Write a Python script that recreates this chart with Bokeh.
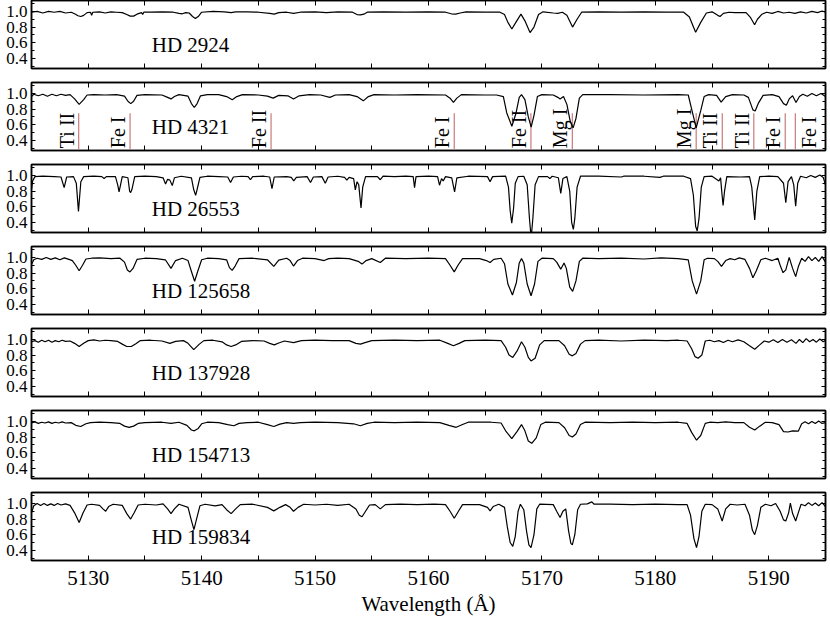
import math
from bokeh.plotting import figure
from bokeh.layouts import column
from bokeh.models import (Range1d, FixedTicker, LinearAxis, ColumnDataSource, Label,
                          PrintfTickFormatter, CustomLabelingPolicy)
from bokeh.core.properties import value
from bokeh.embed import file_html
from bokeh.resources import INLINE

# ---------------- data ----------------
stars = ["HD 2924", "HD 4321", "HD 26553", "HD 125658", "HD 137928", "HD 154713", "HD 159834"]

spec_hd2924 = [
    (5125.0, 0.99), (5125.5, 1.00), (5126.0, 0.98), (5126.5, 1.00), (5127.0, 0.99), (5127.5, 1.00),
    (5128.0, 0.98), (5128.5, 0.99), (5128.8, 0.97), (5129.1, 0.945), (5129.35, 0.935), (5129.6, 0.95),
    (5129.9, 0.985), (5130.2, 0.99), (5130.3, 0.95), (5130.4, 0.99), (5131.0, 0.995), (5131.5, 0.98),
    (5132.0, 0.995), (5132.5, 0.99), (5133.0, 0.985), (5133.4, 0.96), (5133.7, 0.94), (5134.0, 0.94),
    (5134.3, 0.965), (5134.7, 0.985), (5134.8, 0.96), (5134.9, 0.99), (5135.5, 0.99), (5136.5, 0.995),
    (5137.5, 0.99), (5138.0, 0.975), (5138.3, 0.97), (5138.6, 0.985), (5138.9, 0.98), (5139.2, 0.935),
    (5139.45, 0.91), (5139.7, 0.935), (5140.0, 0.99), (5141.0, 1.00), (5142.0, 0.995), (5142.6, 0.985),
    (5143.0, 0.995), (5144.0, 0.995), (5145.0, 0.99), (5146.0, 0.975), (5146.4, 0.965), (5146.8, 0.985),
    (5147.5, 0.99), (5148.1, 0.975), (5148.7, 0.99), (5150.0, 0.995), (5151.0, 0.985), (5152.0, 0.995),
    (5153.3, 0.99), (5153.7, 0.96), (5154.0, 0.955), (5154.3, 0.965), (5154.6, 0.99), (5156.0, 0.995),
    (5158.0, 0.99), (5160.0, 0.995), (5161.5, 0.99), (5162.0, 0.97), (5162.4, 0.965), (5162.8, 0.98),
    (5163.3, 0.995), (5165.0, 0.99), (5166.3, 0.99), (5166.7, 0.96), (5167.0, 0.86), (5167.35, 0.775),
    (5167.7, 0.86), (5168.15, 0.965), (5168.5, 0.88), (5168.95, 0.73), (5169.3, 0.80), (5169.7, 0.96),
    (5170.1, 0.995), (5171.0, 0.98), (5171.4, 0.975), (5171.8, 0.99), (5172.2, 0.95), (5172.7, 0.80),
    (5173.1, 0.90), (5173.5, 0.99), (5175.0, 0.995), (5177.0, 0.99), (5179.0, 0.995), (5181.0, 0.99),
    (5182.5, 0.99), (5183.0, 0.93), (5183.55, 0.735), (5184.0, 0.86), (5184.5, 0.98), (5185.0, 0.995),
    (5185.5, 0.95), (5185.7, 0.935), (5186.0, 0.975), (5186.5, 0.99), (5187.0, 0.985), (5188.0, 0.985),
    (5188.4, 0.92), (5188.75, 0.83), (5189.0, 0.90), (5189.4, 0.965), (5189.8, 0.99), (5190.3, 0.975),
    (5190.8, 1.00), (5191.3, 0.98), (5191.8, 0.99), (5192.3, 0.975), (5192.8, 0.995), (5193.3, 0.98),
    (5193.8, 1.00), (5194.3, 0.985), (5194.7, 1.005), (5195.0, 0.99),
]

spec_hd4321 = [
    (5125.0, 0.96), (5125.2, 0.99), (5125.6, 0.97), (5126.0, 0.99), (5126.4, 0.965), (5126.8, 0.99),
    (5127.2, 0.97), (5127.6, 0.99), (5128.0, 0.975), (5128.4, 0.985), (5128.8, 0.93), (5129.2, 0.86),
    (5129.6, 0.92), (5129.9, 0.98), (5130.5, 0.985), (5131.5, 0.98), (5132.5, 0.985), (5133.2, 0.965),
    (5133.5, 0.90), (5133.75, 0.87), (5134.0, 0.90), (5134.3, 0.975), (5135.0, 0.985), (5136.5, 0.98),
    (5137.0, 0.95), (5137.3, 0.93), (5137.6, 0.96), (5138.0, 0.985), (5138.8, 0.965), (5139.1, 0.87),
    (5139.35, 0.82), (5139.6, 0.87), (5139.9, 0.97), (5140.5, 0.985), (5141.5, 0.985), (5142.2, 0.96),
    (5142.7, 0.92), (5143.1, 0.96), (5143.6, 0.985), (5145.0, 0.98), (5145.8, 0.965), (5146.3, 0.94),
    (5146.8, 0.975), (5147.6, 0.97), (5148.1, 0.93), (5148.6, 0.97), (5149.5, 0.985), (5150.5, 0.98),
    (5151.3, 0.95), (5151.8, 0.98), (5153.0, 0.985), (5153.7, 0.96), (5154.25, 0.905), (5154.7, 0.96),
    (5155.2, 0.985), (5157.0, 0.98), (5159.0, 0.985), (5161.5, 0.98), (5161.9, 0.94), (5162.2, 0.885),
    (5162.5, 0.94), (5162.9, 0.985), (5165.0, 0.98), (5166.0, 0.98), (5166.6, 0.96), (5166.9, 0.75),
    (5167.35, 0.58), (5167.7, 0.74), (5168.0, 0.95), (5168.2, 0.985), (5168.5, 0.92), (5168.8, 0.70),
    (5169.05, 0.57), (5169.3, 0.72), (5169.6, 0.96), (5170.0, 0.985), (5171.0, 0.98), (5171.4, 0.95),
    (5171.6, 0.93), (5171.9, 0.96), (5172.2, 0.86), (5172.5, 0.64), (5172.75, 0.56), (5173.0, 0.68),
    (5173.3, 0.94), (5173.6, 0.985), (5176.0, 0.985), (5179.0, 0.98), (5182.0, 0.985), (5182.9, 0.98),
    (5183.2, 0.80), (5183.6, 0.56), (5184.0, 0.78), (5184.3, 0.96), (5184.7, 0.985), (5185.4, 0.975),
    (5185.8, 0.89), (5186.2, 0.96), (5186.8, 0.985), (5187.8, 0.98), (5188.2, 0.95), (5188.6, 0.79),
    (5188.8, 0.775), (5189.1, 0.88), (5189.5, 0.975), (5190.3, 0.985), (5190.9, 0.96), (5191.3, 0.87),
    (5191.55, 0.85), (5191.8, 0.93), (5192.1, 0.97), (5192.4, 0.885), (5192.7, 0.96), (5193.0, 0.99),
    (5193.4, 0.965), (5193.8, 1.00), (5194.2, 0.97), (5194.6, 1.00), (5195.0, 0.96),
]

spec_hd26553 = [
    (5125.0, 0.82), (5125.1, 0.93), (5125.3, 0.985), (5126.0, 0.99), (5127.0, 0.985), (5127.6, 0.98),
    (5127.88, 0.845), (5128.1, 0.98), (5128.7, 0.985), (5128.95, 0.90), (5129.14, 0.54), (5129.35, 0.92),
    (5129.6, 0.985), (5130.5, 0.99), (5131.2, 0.985), (5131.4, 0.96), (5131.6, 0.985), (5132.4, 0.985),
    (5132.6, 0.88), (5132.72, 0.79), (5132.85, 0.88), (5133.0, 0.985), (5133.5, 0.97), (5133.65, 0.80),
    (5133.74, 0.78), (5133.85, 0.82), (5134.1, 0.985), (5135.0, 0.99), (5136.0, 0.985), (5136.6, 0.97),
    (5136.82, 0.89), (5137.0, 0.95), (5137.2, 0.94), (5137.41, 0.87), (5137.6, 0.97), (5138.2, 0.99),
    (5139.1, 0.97), (5139.3, 0.82), (5139.47, 0.745), (5139.6, 0.82), (5139.85, 0.975), (5140.5, 0.99),
    (5141.5, 0.985), (5142.3, 0.98), (5142.55, 0.91), (5142.8, 0.98), (5143.5, 0.99), (5144.1, 0.985),
    (5144.3, 0.945), (5144.5, 0.985), (5145.5, 0.99), (5146.0, 0.98), (5146.2, 0.83), (5146.4, 0.98),
    (5147.5, 0.985), (5147.9, 0.975), (5148.12, 0.93), (5148.35, 0.975), (5149.3, 0.985), (5149.6, 0.91),
    (5149.85, 0.98), (5150.6, 0.985), (5150.9, 0.90), (5151.15, 0.98), (5152.0, 0.99), (5152.6, 0.975),
    (5152.8, 0.94), (5153.0, 0.975), (5153.4, 0.96), (5153.55, 0.815), (5153.7, 0.92), (5153.85, 0.88),
    (5154.05, 0.585), (5154.2, 0.85), (5154.45, 0.985), (5155.5, 0.985), (5155.75, 0.945), (5156.0, 0.99),
    (5157.0, 0.985), (5158.0, 0.99), (5158.65, 0.985), (5158.77, 0.845), (5158.9, 0.985), (5160.0, 0.99),
    (5160.8, 0.985), (5160.97, 0.875), (5161.15, 0.96), (5161.3, 0.93), (5161.5, 0.985), (5162.05, 0.97),
    (5162.3, 0.79), (5162.5, 0.97), (5163.5, 0.99), (5165.2, 0.985), (5165.43, 0.92), (5165.65, 0.985),
    (5166.8, 0.99), (5167.05, 0.85), (5167.2, 0.55), (5167.34, 0.39), (5167.5, 0.58), (5167.65, 0.90),
    (5167.9, 0.985), (5168.4, 0.99), (5168.7, 0.88), (5168.9, 0.45), (5169.05, 0.20), (5169.2, 0.45),
    (5169.4, 0.88), (5169.7, 0.985), (5170.5, 0.985), (5170.7, 0.96), (5170.9, 0.99), (5171.45, 0.97),
    (5171.66, 0.77), (5171.85, 0.96), (5172.2, 0.985), (5172.45, 0.80), (5172.62, 0.40), (5172.77, 0.31),
    (5172.9, 0.45), (5173.1, 0.85), (5173.4, 0.99), (5175.0, 0.99), (5177.0, 0.98), (5177.2, 0.99),
    (5179.0, 0.99), (5180.4, 0.975), (5180.7, 0.99), (5182.5, 0.99), (5183.1, 0.96), (5183.35, 0.75),
    (5183.55, 0.35), (5183.69, 0.29), (5183.85, 0.45), (5184.05, 0.85), (5184.3, 0.985), (5185.0, 0.99),
    (5185.6, 0.93), (5185.75, 0.97), (5185.85, 0.80), (5185.97, 0.615), (5186.1, 0.80), (5186.3, 0.985),
    (5187.5, 0.98), (5188.3, 0.985), (5188.5, 0.85), (5188.76, 0.43), (5188.95, 0.80), (5189.2, 0.985),
    (5190.0, 0.99), (5190.8, 0.985), (5191.3, 0.90), (5191.5, 0.65), (5191.7, 0.92), (5192.0, 0.985),
    (5192.2, 0.88), (5192.37, 0.605), (5192.55, 0.90), (5192.8, 0.99), (5193.3, 0.97), (5193.7, 1.00),
    (5194.1, 0.975), (5194.5, 1.005), (5194.8, 0.975), (5195.0, 0.88),
]

spec_hd125658 = [
    (5125.0, 0.91), (5125.2, 0.97), (5125.5, 0.99), (5125.9, 0.975), (5126.3, 1.00), (5126.7, 0.975),
    (5127.1, 0.995), (5127.5, 0.97), (5127.9, 0.995), (5128.3, 0.975), (5128.6, 0.96), (5128.9, 0.90),
    (5129.2, 0.83), (5129.5, 0.90), (5129.8, 0.98), (5130.3, 0.99), (5131.0, 0.995), (5132.0, 0.985),
    (5132.8, 0.99), (5133.2, 0.94), (5133.45, 0.84), (5133.68, 0.815), (5133.95, 0.86), (5134.3, 0.975),
    (5135.0, 0.99), (5136.0, 0.985), (5136.8, 0.97), (5137.3, 0.86), (5137.7, 0.96), (5138.3, 0.99),
    (5138.8, 0.96), (5139.1, 0.82), (5139.38, 0.695), (5139.65, 0.82), (5140.0, 0.97), (5140.5, 0.99),
    (5141.5, 0.985), (5142.2, 0.97), (5142.45, 0.87), (5142.69, 0.835), (5142.95, 0.89), (5143.3, 0.985),
    (5144.5, 0.99), (5145.8, 0.97), (5146.36, 0.885), (5146.8, 0.965), (5147.5, 0.99), (5147.8, 0.96),
    (5148.1, 0.89), (5148.45, 0.96), (5148.9, 0.99), (5150.0, 0.985), (5150.8, 0.96), (5151.2, 0.985),
    (5152.0, 0.99), (5153.0, 0.985), (5153.8, 0.95), (5154.14, 0.915), (5154.5, 0.96), (5155.0, 0.985),
    (5155.75, 0.935), (5156.2, 0.99), (5158.0, 0.985), (5160.0, 0.99), (5161.5, 0.985), (5161.9, 0.90),
    (5162.27, 0.815), (5162.6, 0.90), (5163.0, 0.985), (5164.5, 0.985), (5165.1, 0.96), (5165.43, 0.935),
    (5165.75, 0.975), (5166.4, 0.99), (5166.7, 0.92), (5167.0, 0.66), (5167.4, 0.52), (5167.75, 0.68),
    (5168.0, 0.93), (5168.2, 0.985), (5168.4, 0.93), (5168.7, 0.66), (5169.04, 0.51), (5169.35, 0.66),
    (5169.65, 0.95), (5170.0, 0.99), (5171.0, 0.985), (5171.3, 0.94), (5171.66, 0.85), (5171.95, 0.93),
    (5172.15, 0.86), (5172.45, 0.62), (5172.71, 0.565), (5173.0, 0.70), (5173.3, 0.95), (5173.6, 0.99),
    (5175.0, 0.985), (5177.0, 0.99), (5179.0, 0.98), (5180.5, 0.995), (5182.0, 0.985), (5182.9, 0.97),
    (5183.25, 0.70), (5183.63, 0.53), (5184.0, 0.70), (5184.3, 0.97), (5184.6, 0.99), (5185.2, 0.985),
    (5185.5, 0.95), (5185.83, 0.885), (5186.2, 0.96), (5186.6, 0.985), (5187.0, 0.97), (5187.4, 0.995),
    (5187.9, 0.975), (5188.3, 0.86), (5188.6, 0.74), (5188.9, 0.83), (5189.3, 0.97), (5189.7, 0.99),
    (5190.3, 0.96), (5190.8, 0.99), (5191.0, 0.90), (5191.26, 0.805), (5191.5, 0.84), (5191.8, 1.00),
    (5192.1, 0.86), (5192.37, 0.755), (5192.6, 0.88), (5192.9, 0.99), (5193.2, 0.95), (5193.5, 1.01),
    (5193.8, 0.96), (5194.1, 1.00), (5194.4, 0.95), (5194.7, 1.01), (5195.0, 0.94),
]

spec_hd137928 = [
    (5125.0, 0.97), (5125.3, 0.985), (5125.6, 0.965), (5125.9, 0.99), (5126.2, 0.97), (5126.5, 0.99),
    (5126.8, 0.965), (5127.1, 0.985), (5127.4, 0.97), (5127.7, 0.99), (5128.0, 0.975), (5128.4, 0.98),
    (5128.8, 0.95), (5129.2, 0.91), (5129.6, 0.95), (5130.0, 0.985), (5130.5, 0.995), (5131.0, 0.98),
    (5131.5, 0.99), (5132.0, 0.985), (5132.6, 0.975), (5133.0, 0.94), (5133.4, 0.91), (5133.8, 0.91),
    (5134.2, 0.945), (5134.6, 0.985), (5135.5, 0.99), (5136.5, 0.98), (5137.2, 0.95), (5137.7, 0.975),
    (5138.4, 0.985), (5138.8, 0.95), (5139.3, 0.87), (5139.8, 0.94), (5140.2, 0.985), (5141.0, 0.99),
    (5141.8, 0.97), (5142.2, 0.93), (5142.6, 0.91), (5143.0, 0.93), (5143.5, 0.975), (5144.5, 0.985),
    (5145.5, 0.98), (5146.0, 0.95), (5146.4, 0.93), (5146.8, 0.955), (5147.3, 0.98), (5148.1, 0.96),
    (5148.8, 0.985), (5150.0, 0.99), (5151.5, 0.985), (5153.0, 0.985), (5153.6, 0.95), (5154.0, 0.94),
    (5154.4, 0.96), (5155.0, 0.985), (5157.0, 0.99), (5159.0, 0.985), (5161.0, 0.99), (5161.7, 0.95),
    (5162.2, 0.92), (5162.7, 0.95), (5163.2, 0.985), (5165.0, 0.99), (5166.4, 0.985), (5166.8, 0.90),
    (5167.1, 0.80), (5167.43, 0.77), (5167.8, 0.85), (5168.2, 0.97), (5168.5, 0.90), (5168.8, 0.77),
    (5169.04, 0.725), (5169.4, 0.76), (5169.8, 0.93), (5170.2, 0.985), (5171.5, 0.985), (5172.0, 0.92),
    (5172.4, 0.81), (5172.68, 0.79), (5173.0, 0.82), (5173.4, 0.94), (5173.8, 0.985), (5175.0, 0.99),
    (5177.0, 0.98), (5179.0, 0.99), (5181.0, 0.985), (5182.0, 0.99), (5182.8, 0.98), (5183.2, 0.88),
    (5183.5, 0.78), (5183.77, 0.76), (5184.1, 0.80), (5184.4, 0.98), (5184.8, 0.99), (5185.2, 0.97),
    (5185.6, 0.985), (5186.0, 0.96), (5186.4, 0.99), (5186.8, 0.97), (5187.3, 0.995), (5187.8, 0.97),
    (5188.3, 0.92), (5188.76, 0.875), (5189.2, 0.93), (5189.6, 0.98), (5190.0, 0.965), (5190.4, 0.995),
    (5190.8, 0.96), (5191.2, 1.00), (5191.6, 0.965), (5192.0, 0.995), (5192.4, 0.95), (5192.7, 1.00),
    (5193.0, 0.96), (5193.3, 1.01), (5193.6, 0.97), (5193.9, 1.00), (5194.2, 0.965), (5194.5, 1.005),
    (5194.8, 0.97), (5195.0, 0.99),
]

spec_hd154713 = [
    (5125.0, 0.98), (5125.3, 0.995), (5125.6, 0.975), (5125.9, 0.99), (5126.2, 0.98), (5126.5, 0.995),
    (5126.8, 0.975), (5127.1, 0.99), (5127.4, 0.98), (5127.7, 0.995), (5128.0, 0.98), (5128.5, 0.985),
    (5128.9, 0.95), (5129.34, 0.935), (5129.8, 0.97), (5130.2, 0.985), (5131.0, 0.99), (5132.0, 0.985),
    (5132.8, 0.975), (5133.2, 0.94), (5133.6, 0.925), (5134.0, 0.94), (5134.4, 0.975), (5135.0, 0.985),
    (5136.5, 0.99), (5137.3, 0.975), (5138.0, 0.99), (5138.7, 0.95), (5139.1, 0.89), (5139.35, 0.88),
    (5139.7, 0.91), (5140.0, 0.97), (5140.5, 0.99), (5141.5, 0.985), (5142.3, 0.96), (5142.84, 0.945),
    (5143.3, 0.975), (5144.0, 0.985), (5145.0, 0.99), (5145.8, 0.96), (5146.36, 0.935), (5146.9, 0.965),
    (5147.5, 0.985), (5148.1, 0.975), (5148.7, 0.985), (5150.0, 0.99), (5152.0, 0.985), (5153.4, 0.97),
    (5153.99, 0.945), (5154.6, 0.975), (5155.2, 0.99), (5157.0, 0.985), (5159.0, 0.99), (5161.0, 0.985),
    (5161.8, 0.95), (5162.44, 0.925), (5163.0, 0.96), (5163.5, 0.99), (5165.5, 0.99), (5166.4, 0.98),
    (5166.8, 0.88), (5167.34, 0.78), (5167.8, 0.87), (5168.2, 0.96), (5168.5, 0.88), (5168.8, 0.75),
    (5169.1, 0.72), (5169.5, 0.79), (5169.9, 0.96), (5170.3, 0.99), (5171.5, 0.985), (5172.0, 0.92),
    (5172.4, 0.82), (5172.68, 0.80), (5173.0, 0.84), (5173.4, 0.96), (5173.8, 0.99), (5176.0, 0.985),
    (5178.0, 0.99), (5180.0, 0.985), (5182.0, 0.99), (5182.8, 0.975), (5183.2, 0.86), (5183.63, 0.76),
    (5184.0, 0.82), (5184.4, 0.975), (5184.8, 0.99), (5185.5, 0.985), (5186.2, 0.995), (5187.0, 0.985),
    (5187.8, 0.985), (5188.3, 0.925), (5188.76, 0.89), (5189.2, 0.94), (5189.7, 0.99), (5190.3, 0.985),
    (5190.9, 0.96), (5191.3, 0.87), (5191.7, 0.865), (5192.1, 0.88), (5192.6, 0.875), (5192.9, 0.97),
    (5193.2, 0.995), (5193.5, 0.97), (5193.8, 1.00), (5194.1, 0.975), (5194.4, 1.005), (5194.7, 0.975),
    (5195.0, 0.985),
]

spec_hd159834 = [
    (5125.0, 0.88), (5125.2, 0.97), (5125.5, 1.00), (5125.8, 0.975), (5126.1, 1.00), (5126.4, 0.975),
    (5126.7, 0.995), (5127.0, 0.975), (5127.3, 1.00), (5127.6, 0.98), (5128.0, 0.995), (5128.4, 0.975),
    (5128.8, 0.88), (5129.2, 0.755), (5129.55, 0.88), (5129.9, 0.98), (5130.3, 0.99), (5131.0, 0.975),
    (5131.3, 0.93), (5131.54, 0.90), (5131.8, 0.96), (5132.2, 0.99), (5133.0, 0.975), (5133.4, 0.87),
    (5133.74, 0.80), (5134.05, 0.88), (5134.4, 0.98), (5135.0, 0.99), (5136.0, 0.98), (5136.6, 0.995),
    (5137.0, 0.93), (5137.3, 0.87), (5137.6, 0.93), (5138.0, 0.99), (5138.8, 0.95), (5139.1, 0.78),
    (5139.32, 0.665), (5139.55, 0.80), (5139.85, 0.97), (5140.3, 0.99), (5141.2, 0.97), (5141.8, 0.985),
    (5142.2, 0.92), (5142.6, 0.87), (5143.0, 0.93), (5143.4, 0.985), (5144.5, 0.99), (5145.8, 0.95),
    (5146.36, 0.905), (5146.9, 0.95), (5147.4, 0.985), (5147.8, 0.95), (5148.1, 0.90), (5148.5, 0.95),
    (5149.0, 0.99), (5150.0, 0.98), (5151.0, 0.99), (5152.0, 0.975), (5153.0, 0.99), (5153.6, 0.93),
    (5153.9, 0.85), (5154.14, 0.83), (5154.45, 0.90), (5154.8, 0.98), (5155.3, 0.985), (5155.75, 0.93),
    (5156.2, 0.985), (5157.5, 0.99), (5159.0, 0.985), (5160.5, 0.99), (5161.5, 0.985), (5161.9, 0.90),
    (5162.27, 0.81), (5162.6, 0.89), (5163.0, 0.985), (5164.5, 0.985), (5165.2, 0.95), (5165.43, 0.905),
    (5165.7, 0.96), (5166.2, 0.99), (5166.7, 0.95), (5166.95, 0.70), (5167.2, 0.50), (5167.43, 0.45),
    (5167.65, 0.58), (5167.9, 0.90), (5168.1, 0.99), (5168.4, 0.92), (5168.65, 0.64), (5168.85, 0.47),
    (5169.04, 0.435), (5169.3, 0.60), (5169.55, 0.93), (5169.8, 0.99), (5171.0, 0.985), (5171.3, 0.90),
    (5171.6, 0.82), (5171.85, 0.90), (5172.1, 0.93), (5172.35, 0.65), (5172.55, 0.49), (5172.68, 0.47),
    (5172.9, 0.60), (5173.15, 0.92), (5173.4, 0.99), (5174.0, 0.995), (5174.4, 1.02), (5174.6, 0.99),
    (5176.0, 0.99), (5178.0, 0.985), (5180.0, 0.99), (5182.0, 0.985), (5182.8, 0.985), (5183.1, 0.85),
    (5183.4, 0.55), (5183.63, 0.435), (5183.85, 0.58), (5184.1, 0.90), (5184.4, 0.99), (5185.0, 0.985),
    (5185.5, 0.93), (5185.89, 0.775), (5186.2, 0.93), (5186.6, 0.99), (5187.2, 0.98), (5187.9, 0.99),
    (5188.3, 0.85), (5188.55, 0.66), (5188.76, 0.60), (5189.0, 0.72), (5189.3, 0.95), (5189.7, 0.99),
    (5190.2, 0.97), (5190.6, 1.00), (5191.0, 0.90), (5191.3, 0.79), (5191.5, 0.775), (5191.75, 0.88),
    (5191.9, 1.005), (5192.1, 0.87), (5192.37, 0.775), (5192.6, 0.88), (5192.85, 0.99), (5193.2, 0.97),
    (5193.5, 1.01), (5193.8, 0.975), (5194.1, 1.005), (5194.4, 0.97), (5194.7, 1.01), (5195.0, 0.96),
]

spectra = [spec_hd2924, spec_hd4321, spec_hd26553, spec_hd125658,
           spec_hd137928, spec_hd154713, spec_hd159834]

# line identifications (shown in the HD 4321 panel); side = where the label sits
line_names = ["Ti II", "Fe I", "Fe II", "Fe I", "Fe II", "Mg I", "Mg I", "Ti II", "Ti II", "Fe I", "Fe I"]
line_wl = [5129.16, 5133.69, 5146.12, 5162.27, 5169.03, 5172.68, 5183.60, 5185.90, 5188.68, 5191.45, 5192.34]
line_side = ["left"] * 10 + ["right"]

x_ticks = [5130, 5140, 5150, 5160, 5170, 5180, 5190]
x_minor = [5125, 5135, 5145, 5155, 5165, 5175, 5185, 5195]
y_ticks = [0.4, 0.6, 0.8, 1.0]
y_minor = [0.3, 0.5, 0.7, 0.9, 1.1]

# ---------------- plotting ----------------
FONT = "Liberation Serif"
FRAME_W = 794
FRAME_H = 68


def make_axis(cls_kw, labels):
    ax = LinearAxis(**cls_kw)
    ax.axis_line_color = "black"
    ax.axis_line_width = 1.5
    ax.major_tick_in = 5
    ax.major_tick_out = 0
    ax.minor_tick_in = 5
    ax.minor_tick_out = 0
    ax.major_tick_line_color = "black"
    ax.minor_tick_line_color = "black"
    ax.major_label_text_font = FONT
    ax.major_label_text_color = "black"
    if not labels:
        ax.major_label_text_font_size = "0px"
        ax.major_label_standoff = 0
        ax.major_label_policy = CustomLabelingPolicy(code="return new Set()")
    return ax


figs = []
n = len(stars)
for i, (name, spec) in enumerate(zip(stars, spectra)):
    last = (i == n - 1)
    p = figure(frame_width=FRAME_W, frame_height=FRAME_H,
               x_range=Range1d(5125, 5195), y_range=Range1d(0.27, 1.14),
               x_axis_location=None, y_axis_location=None,
               output_backend="svg", toolbar_location=None,
               min_border_left=31, min_border_right=2,
               min_border_top=(0 if i == 0 else 7),
               min_border_bottom=(0 if last else 7))
    p.outline_line_color = "black"
    p.outline_line_width = 1.5
    p.xgrid.visible = False
    p.ygrid.visible = False
    p.background_fill_color = "white"
    p.border_fill_color = "white"

    xt = dict(ticker=FixedTicker(ticks=x_ticks, minor_ticks=x_minor))
    yt = dict(ticker=FixedTicker(ticks=y_ticks, minor_ticks=y_minor))

    left = make_axis(yt, True)
    left.formatter = PrintfTickFormatter(format="%.1f")
    left.major_label_text_font_size = "17px"
    left.major_label_standoff = 4
    left.major_tick_in = 4
    left.minor_tick_in = 3
    right = make_axis(yt, False)
    right.major_tick_in = 4
    right.minor_tick_in = 3
    top = make_axis(xt, False)
    bottom = make_axis(xt, last)
    if last:
        bottom.major_label_text_font_size = "21px"
        bottom.major_label_standoff = 10
        bottom.axis_label = "Wavelength (Å)"
        bottom.axis_label_text_font = FONT
        bottom.axis_label_text_font_size = "21px"
        bottom.axis_label_text_font_style = "normal"
        bottom.axis_label_text_color = "black"
        bottom.axis_label_standoff = 4
    p.add_layout(left, "left")
    p.add_layout(right, "right")
    p.add_layout(top, "above")
    p.add_layout(bottom, "below")

    if i == 1:
        p.segment(x0=line_wl, y0=[0.29] * len(line_wl), x1=line_wl, y1=[0.745] * len(line_wl),
                  line_color="#c97a7a", line_width=1.2)
        for side, base, off in (("left", "bottom", -1), ("right", "top", 3)):
            sel = [k for k, s in enumerate(line_side) if s == side]
            lsrc = ColumnDataSource(dict(x=[line_wl[k] for k in sel],
                                         y=[0.30] * len(sel),
                                         t=[line_names[k] for k in sel]))
            p.text(x="x", y="y", text="t", source=lsrc, angle=math.pi / 2,
                   x_offset=off, text_align="left", text_baseline=base,
                   text_font=value(FONT), text_font_size="20px", text_color="black")

    src = ColumnDataSource(dict(wl=[s[0] for s in spec], fx=[s[1] for s in spec]))
    p.line(x="wl", y="fx", source=src, line_color="black", line_width=1.2)

    p.add_layout(Label(x=5135.6, y=0.57, text=name, text_font=FONT,
                       text_font_size="21px", text_baseline="middle", text_color="black"))
    figs.append(p)

layout = column(*figs, spacing=0)
open("out.html", "w").write(file_html(layout, INLINE))
